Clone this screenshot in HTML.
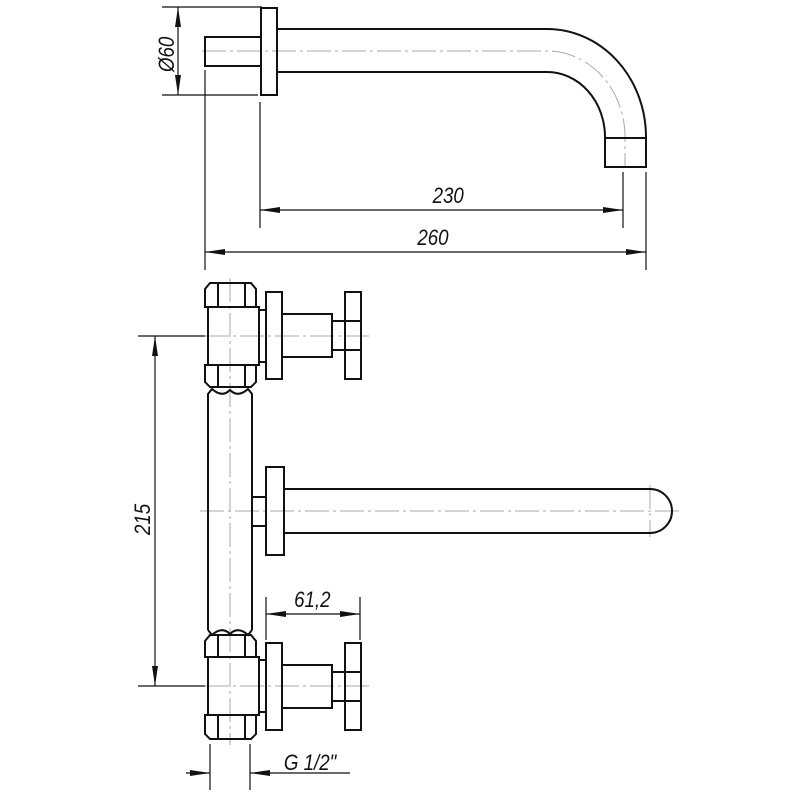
<!DOCTYPE html>
<html><head><meta charset="utf-8"><style>
html,body{margin:0;padding:0;background:#fff}
svg{display:block}
text{font-family:"Liberation Sans",sans-serif;font-style:italic;font-size:22px;fill:#111}
</style></head><body>
<svg width="800" height="800" viewBox="0 0 800 800" xmlns="http://www.w3.org/2000/svg">
<defs>
<marker id="a" viewBox="0 0 20 6" refX="20" refY="3" markerWidth="20" markerHeight="6" markerUnits="userSpaceOnUse" orient="auto-start-reverse"><path d="M0,0 L20,3 L0,6 Z" fill="#111"/></marker>
</defs>
<g fill="none" stroke="#aaa" stroke-width="1" stroke-dasharray="24,4,3,4">
<path d="M202,51 H547 A78,86 0 0 1 625,137 V168"/>
<line x1="205" y1="336" x2="370" y2="336"/>
<line x1="205" y1="686" x2="370" y2="686"/>
<line x1="200" y1="511" x2="680" y2="511"/>
<line x1="230" y1="278" x2="230" y2="745"/>
<line x1="650" y1="485" x2="650" y2="537"/>
</g>
<g fill="none" stroke="#111" stroke-width="2">
<rect x="261" y="8" width="16" height="87"/>
<path d="M261,37 H205 V66 H261"/>
<path d="M277,29 H547 A99,108 0 0 1 646,137 V167 H605 V137 A58,65 0 0 0 547,72 H277"/>
<line x1="605" y1="138" x2="646" y2="138"/>
</g>
<g fill="none" stroke="#111" stroke-width="1.2">
<line x1="162" y1="7" x2="262" y2="7"/>
<line x1="162" y1="95" x2="258" y2="95"/>
<line x1="178" y1="7" x2="178" y2="95" marker-start="url(#a)" marker-end="url(#a)"/>
<line x1="205" y1="70" x2="205" y2="270"/>
<line x1="260" y1="102" x2="260" y2="228"/>
<line x1="623" y1="172" x2="623" y2="228"/>
<line x1="646" y1="172" x2="646" y2="270"/>
<line x1="260" y1="210" x2="623" y2="210" marker-start="url(#a)" marker-end="url(#a)"/>
<line x1="205" y1="252" x2="646" y2="252" marker-start="url(#a)" marker-end="url(#a)"/>
<line x1="138" y1="336" x2="205" y2="336"/>
<line x1="138" y1="686" x2="205" y2="686"/>
<line x1="155" y1="336" x2="155" y2="686" marker-start="url(#a)" marker-end="url(#a)"/>
<line x1="266" y1="597" x2="266" y2="640"/>
<line x1="360" y1="597" x2="360" y2="640"/>
<line x1="266" y1="614" x2="360" y2="614" marker-start="url(#a)" marker-end="url(#a)"/>
<line x1="210" y1="744" x2="210" y2="790"/>
<line x1="250" y1="744" x2="250" y2="790"/>
<line x1="186" y1="773" x2="210" y2="773" marker-end="url(#a)"/>
<line x1="350" y1="773" x2="250" y2="773" marker-end="url(#a)"/>
</g>
<g fill="none" stroke="#111" stroke-width="2">
<path d="M205,307 V289 L210,283 H251 L256,289 V307 Z"/>
<line x1="218" y1="284" x2="218" y2="307"/><line x1="245" y1="284" x2="245" y2="307"/>
<rect x="208" y="307" width="51" height="58"/>
<path d="M205,365 H256 V382 L251,387 H210 L205,382 Z"/>
<line x1="218" y1="365" x2="218" y2="387"/><line x1="245" y1="365" x2="245" y2="387"/>
<rect x="259" y="310" width="7" height="52"/>
<rect x="266" y="292" width="16" height="87"/>
<rect x="282" y="314" width="50" height="43"/>
<rect x="332" y="321" width="13" height="29"/>
<rect x="345" y="292" width="16" height="87"/>
<line x1="345" y1="321" x2="361" y2="321"/><line x1="345" y1="350" x2="361" y2="350"/>
<path d="M208,630 V394 L212,389 Q222,398 230,390 Q238,398 248,389 L252,394 V630"/>
<path d="M208,630 L212,635 Q222,626 230,634 Q238,626 248,635 L252,630"/>
<path d="M205,657 V641 L210,635 H251 L256,641 V657 Z"/>
<line x1="218" y1="636" x2="218" y2="657"/><line x1="245" y1="636" x2="245" y2="657"/>
<rect x="208" y="657" width="51" height="58"/>
<path d="M205,715 H256 V734 L251,739 H210 L205,734 Z"/>
<line x1="218" y1="715" x2="218" y2="739"/><line x1="245" y1="715" x2="245" y2="739"/>
<rect x="259" y="660" width="7" height="52"/>
<rect x="266" y="643" width="16" height="87"/>
<rect x="282" y="665" width="50" height="43"/>
<rect x="332" y="672" width="13" height="29"/>
<rect x="345" y="643" width="16" height="87"/>
<line x1="345" y1="672" x2="361" y2="672"/><line x1="345" y1="701" x2="361" y2="701"/>
<rect x="252" y="497" width="14" height="29"/>
<rect x="266" y="467" width="18" height="88"/>
<path d="M284,489 H650 A22,22 0 0 1 650,533 H284"/>
</g>
<g transform="scale(0.85,1)">
<text x="509" y="203">230</text>
<text x="491" y="245">260</text>
<text x="346" y="607">61,2</text>
<text x="334" y="770">G 1/2"</text>
</g>
<text transform="translate(174,72) rotate(-90) scale(0.85,1)" x="0" y="0">Ø60</text>
<text transform="translate(150,535) rotate(-90) scale(0.85,1)" x="0" y="0">215</text>
</svg>
</body></html>
